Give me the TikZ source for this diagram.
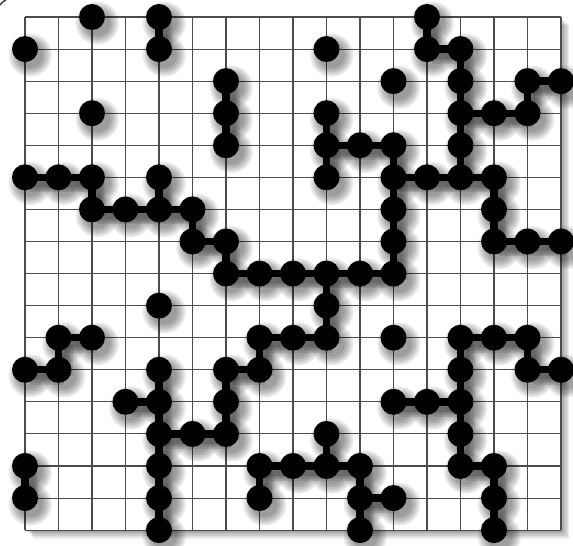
\documentclass[tikz,border=0pt]{standalone}
\pgfdeclarelayer{bg}
\pgfdeclarelayer{shade}
\pgfdeclarelayer{bonds}
\pgfsetlayers{bg,shade,bonds,main}
\tikzset{
  site/.style={circle, fill=black, inner sep=0pt, minimum size=0.52cm},
  bond/.style={line width=4.2pt, black},
  shadow/.style={black, opacity=0.09},
  lattice/.style={line width=0.6pt, black!70},
}

\begin{document}
\begin{tikzpicture}
  \useasboundingbox (0,0) rectangle (11.46,-10.92);

  % stray mark in the corner
  \draw[line width=0.8pt, black!80] (0,-0.1) to[bend left=15] (0.12,0);

  \begin{scope}[shift={(0.5cm,-0.34cm)}, x=0.67cm, y=-0.6414cm]

    % lattice with its soft shadow
    \begin{pgfonlayer}{bg}
      \foreach \o in {1,...,6} {
        \fill[black, opacity=0.07, xshift=\o*0.8pt, yshift=-\o*0.8pt]
          (0,0) rectangle (16,16);
      }
      \fill[white] (0,0) rectangle (16,16);
      \foreach \k in {0,...,16} {
        \draw[lattice] (\k,0) -- (\k,16);
        \draw[lattice] (0,\k) -- (16,\k);
      }
    \end{pgfonlayer}

    % occupied sites, row by row
    \foreach \j/\cols in {
        0/{2,4,12},
        1/{0,4,9,12,13},
        2/{6,11,13,15,16},
        3/{2,6,9,13,14,15},
        4/{6,9,10,11,13},
        5/{0,1,2,4,9,11,12,13,14},
        6/{2,3,4,5,11,14},
        7/{5,6,11,14,15,16},
        8/{6,7,8,9,10,11},
        9/{4,9},
        10/{1,2,7,8,9,11,13,14,15},
        11/{0,1,4,6,7,13,15,16},
        12/{3,4,6,11,12,13},
        13/{4,5,6,9,13},
        14/{0,4,7,8,9,10,13,14},
        15/{0,4,7,10,11,14},
        16/{4,10,14}} {
      \foreach \i in \cols {
        \node[site] (s-\i-\j) at (\i,\j) {};
        \begin{pgfonlayer}{shade}
          \foreach \r in {0,1,2,3,4}
            \fill[shadow] ([xshift=3pt,yshift=-3.5pt]s-\i-\j.center)
              circle (0.26cm+\r*1.2pt);
        \end{pgfonlayer}
      }
    }

    % bonds
    \foreach \a/\b/\c/\d in {
        4/0/4/1,
        12/0/12/1, 12/1/13/1, 13/1/13/2, 13/2/13/3, 13/3/14/3,
        14/3/15/3, 15/2/15/3, 15/2/16/2, 13/3/13/4, 13/4/13/5,
        12/5/13/5, 11/5/12/5, 13/5/14/5, 11/4/11/5, 10/4/11/4,
        9/4/10/4, 9/3/9/4, 9/4/9/5, 14/5/14/6, 14/6/14/7,
        14/7/15/7, 15/7/16/7, 11/5/11/6, 11/6/11/7, 11/7/11/8,
        6/2/6/3, 6/3/6/4,
        0/5/1/5, 1/5/2/5, 2/5/2/6, 2/6/3/6, 3/6/4/6, 4/5/4/6,
        4/6/5/6, 5/6/5/7, 5/7/6/7, 6/7/6/8, 6/8/7/8, 7/8/8/8,
        8/8/9/8, 9/8/10/8, 10/8/11/8, 9/8/9/9, 9/9/9/10,
        8/10/9/10, 7/10/8/10, 7/10/7/11, 6/11/7/11, 6/11/6/12,
        6/12/6/13, 5/13/6/13, 4/13/5/13, 4/11/4/12, 3/12/4/12,
        4/12/4/13, 4/13/4/14, 4/14/4/15, 4/15/4/16,
        1/10/2/10, 1/10/1/11, 0/11/1/11,
        0/14/0/15,
        13/10/14/10, 14/10/15/10, 13/10/13/11, 15/10/15/11,
        15/11/16/11, 13/11/13/12, 11/12/12/12, 12/12/13/12,
        13/12/13/13, 13/13/13/14, 13/14/14/14, 14/14/14/15,
        14/15/14/16,
        7/14/8/14, 8/14/9/14, 9/14/10/14, 9/13/9/14, 7/14/7/15,
        10/14/10/15, 10/15/11/15, 10/15/10/16} {
      \begin{pgfonlayer}{shade}
        \foreach \w in {4,6,8,10}
          \draw[shadow, line width=\w pt]
            ([xshift=3pt,yshift=-3.5pt]s-\a-\b.center)
            -- ([xshift=3pt,yshift=-3.5pt]s-\c-\d.center);
      \end{pgfonlayer}
      \begin{pgfonlayer}{bonds}
        \draw[bond] (s-\a-\b.center) -- (s-\c-\d.center);
      \end{pgfonlayer}
    }

  \end{scope}
\end{tikzpicture}
\end{document}
